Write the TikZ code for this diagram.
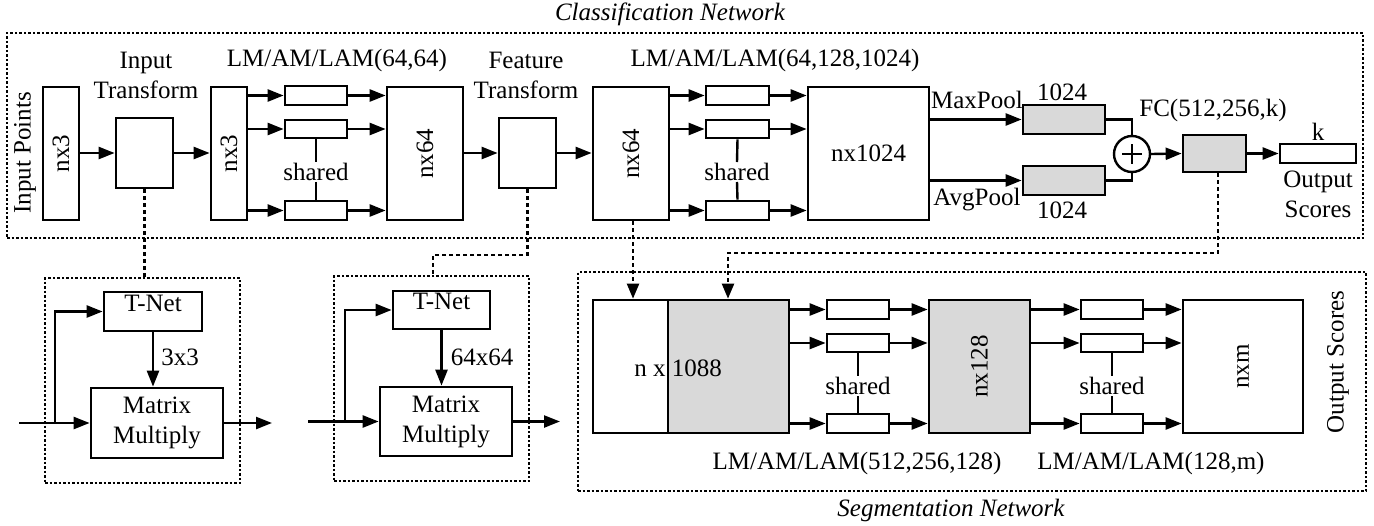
\documentclass[tikz,border=0pt]{standalone}
\usepackage{fontspec}
\setmainfont{Liberation Serif}
\usetikzlibrary{arrows.meta,calc,fit}
\definecolor{boxgray}{RGB}{217,217,217}
\begin{document}
\begin{tikzpicture}[x=1pt,y=-1pt,
  font=\fontsize{25}{30}\selectfont,
  box/.style={draw, line width=2.7pt, inner sep=0pt},
  gbox/.style={box, fill=boxgray},
  lbl/.style={inner sep=0pt},
  line/.style={line width=2.4pt},
  arr/.style={line width=2.4pt, -{Triangle[length=16pt,width=12pt]}},
  region/.style={draw, line width=1.5pt, dash pattern=on 2.5pt off 2pt, inner sep=0pt},
  link/.style={line width=2.2pt, dash pattern=on 4pt off 3pt},
  larr/.style={link, -{Triangle[length=15pt,width=12pt]}},
  rot/.style={label={[rotate=90]center:#1}}
]
\useasboundingbox (0,0) rectangle (1374,525);

% ---------------- Classification network ----------------
\node[region, fit={(7,33) (1363,238)}] (cls) {};
\node[lbl] (clst) at (670,14) {\itshape Classification Network};
\node[lbl, rotate=90] (inpts) at (25,153) {Input Points};

\node[box, fit={(43,87) (79,220)}, rot=nx3] (in3) {};
\node[box, fit={(116,118) (173,188)}] (itf) {};
\node[lbl, align=center] (itft) at (146,75) {Input\\Transform};
\node[box, fit={(211,87) (247,220)}, rot=nx3] (n3b) {};

\node[box, fit={(285,86) (347,105)}] (s1a) {};
\node[box, fit={(285,120) (347,138)}] (s1b) {};
\node[box, fit={(285,201) (347,220)}] (s1c) {};
\node[inner sep=1pt] (sh1) at (316,172) {shared};
\node[lbl] (lm1) at (337,60) {LM/AM/LAM(64,64)};
\node[box, fit={(387,87) (463,220)}, rot=nx64] (n64) {};

\node[box, fit={(499,118) (556,188)}] (ftf) {};
\node[lbl, align=center] (ftft) at (526,75) {Feature\\Transform};
\node[box, fit={(593,87) (669,220)}, rot=nx64] (n64b) {};

\node[box, fit={(706,86) (769,105)}] (s2a) {};
\node[box, fit={(706,120) (769,138)}] (s2b) {};
\node[box, fit={(706,201) (769,220)}] (s2c) {};
\node[inner sep=1pt] (sh2) at (737,172) {shared};
\node[lbl] (lm2) at (775,60) {LM/AM/LAM(64,128,1024)};
\node[box, fit={(808,87) (929,220)}, label=center:nx1024] (n1024) {};

\node[gbox, fit={(1023,105) (1105,134)}] (mp) {};
\node[gbox, fit={(1023,166) (1105,195)}] (ap) {};
\node[lbl] (mpt) at (977,100) {MaxPool};
\node[lbl] (apt) at (977,200) {AvgPool};
\node[lbl] (mpn) at (1062,92) {1024};
\node[lbl] (apn) at (1062,210) {1024};
\node[circle, draw, line width=2.4pt, minimum size=36pt, inner sep=0pt] (plus) at (1132,154) {};
\draw[line width=2pt] ($(plus)+(-10,0)$) -- ($(plus)+(10,0)$);
\draw[line width=2pt] ($(plus)+(0,-10)$) -- ($(plus)+(0,10)$);
\node[gbox, fit={(1183,135) (1246,172)}] (fc) {};
\node[lbl] (fct) at (1213,110) {FC(512,256,k)};
\node[box, fit={(1280,144) (1356,163)}] (outk) {};
\node[lbl] (kt) at (1318,132) {k};
\node[lbl, align=center] (outt) at (1318,194) {Output\\Scores};

% connectors, classification
\draw[arr] (in3.east |- itf) -- (itf.west);
\draw[arr] (itf.east) -- (itf -| n3b.west);
\foreach \s in {s1a,s1b,s1c}{
  \draw[arr] (n3b.east |- \s) -- (\s.west);
  \draw[arr] (\s.east) -- (\s -| n64.west);
}
\draw[line] (s1b.south) -- (sh1.north);
\draw[line] (sh1.south) -- (s1c.north);
\draw[arr] (n64.east |- ftf) -- (ftf.west);
\draw[arr] (ftf.east) -- (ftf -| n64b.west);
\foreach \s in {s2a,s2b,s2c}{
  \draw[arr] (n64b.east |- \s) -- (\s.west);
  \draw[arr] (\s.east) -- (\s -| n1024.west);
}
\draw[line] (s2b.south) -- (sh2.north);
\draw[line] (sh2.south) -- (s2c.north);
\draw[arr] (n1024.east |- mp) -- (mp.west);
\draw[arr] (n1024.east |- ap) -- (ap.west);
\draw[line] (mp.east) -| (plus.north);
\draw[line] (ap.east) -| (plus.south);
\draw[arr] (plus.east) -- (fc.west);
\draw[arr] (fc.east) -- (outk.west);

% ---------------- Transform details ----------------
\node[region, fit={(45,278) (240,483)}] (tbox1) {};
\node[box, fit={(104,292) (202,331)}] (tnet1) {T-Net};
\node[box, fit={(91,388) (223,458)}] (mm1) {};
\node[lbl, align=center] (mm1t) at (mm1) {Matrix\\Multiply};
\node[lbl] (d1) at (180,357) {3x3};
\coordinate (in1) at (19,423);
\coordinate (br1) at (55,423);
\coordinate (out1) at (272,423);
\draw[arr] (in1) -- (mm1.west);
\draw[arr] (br1) |- (tnet1.west);
\draw[arr] (tnet1.south) -- (tnet1.south |- mm1.north);
\draw[arr] (mm1.east) -- (out1);

\node[region, fit={(334,276) (529,481)}] (tbox2) {};
\node[box, fit={(393,291) (490,329)}] (tnet2) {T-Net};
\node[box, fit={(380,387) (512,456)}] (mm2) {};
\node[lbl, align=center] (mm2t) at (mm2) {Matrix\\Multiply};
\node[lbl] (d2) at (482,357) {64x64};
\coordinate (in2) at (308,421.5);
\coordinate (br2) at (345,421.5);
\coordinate (out2) at (560,421.5);
\draw[arr] (in2) -- (mm2.west);
\draw[arr] (br2) |- (tnet2.west);
\draw[arr] (tnet2.south) -- (tnet2.south |- mm2.north);
\draw[arr] (mm2.east) -- (out2);

\draw[link] (itf.south) -- (itf.south |- tbox1.north);
\coordinate (fbend) at (433,255);
\draw[link] (ftf.south) |- (fbend) -- (fbend |- tbox2.north);

% ---------------- Segmentation network ----------------
\node[region, fit={(578,272) (1366,491)}] (seg) {};
\node[lbl] (segt) at (951,510) {\itshape Segmentation Network};
\node[box, fit={(593,300) (668,433)}] (bigL) {};
\node[gbox, fit={(668,300) (789,433)}] (bigR) {};
\node[lbl] (bigt) at (678,368) {n x 1088};

\node[box, fit={(827,300) (889,319)}] (s3a) {};
\node[box, fit={(827,334) (889,352)}] (s3b) {};
\node[box, fit={(827,414) (889,433)}] (s3c) {};
\node[inner sep=1pt] (sh3) at (858,386) {shared};
\node[gbox, fit={(929,300) (1030,433)}, rot=nx128] (n128) {};

\node[box, fit={(1081,300) (1143,319)}] (s4a) {};
\node[box, fit={(1081,334) (1143,352)}] (s4b) {};
\node[box, fit={(1081,414) (1143,433)}] (s4c) {};
\node[inner sep=1pt] (sh4) at (1112,386) {shared};
\node[box, fit={(1183,300) (1303,433)}, rot=nxm] (nxm) {};
\node[lbl, rotate=90] (segout) at (1338,362) {Output Scores};
\node[lbl] (lm3) at (857,463) {LM/AM/LAM(512,256,128)};
\node[lbl] (lm4) at (1151,463) {LM/AM/LAM(128,m)};

\foreach \s in {s3a,s3b,s3c}{
  \draw[arr] (bigR.east |- \s) -- (\s.west);
  \draw[arr] (\s.east) -- (\s -| n128.west);
}
\foreach \s in {s4a,s4b,s4c}{
  \draw[arr] (n128.east |- \s) -- (\s.west);
  \draw[arr] (\s.east) -- (\s -| nxm.west);
}
\draw[line] (s3b.south) -- (sh3.north);
\draw[line] (sh3.south) -- (s3c.north);
\draw[line] (s4b.south) -- (sh4.north);
\draw[line] (sh4.south) -- (s4c.north);

\coordinate (nbend) at (633,0);
\draw[larr] (nbend |- n64b.south) -- (nbend |- bigL.north);
\coordinate (cbend) at (728,253);
\coordinate (cdrop) at (1218,0);
\draw[larr] (cdrop |- fc.south) |- (cbend) -- (cbend |- bigR.north);
\end{tikzpicture}
\end{document}
